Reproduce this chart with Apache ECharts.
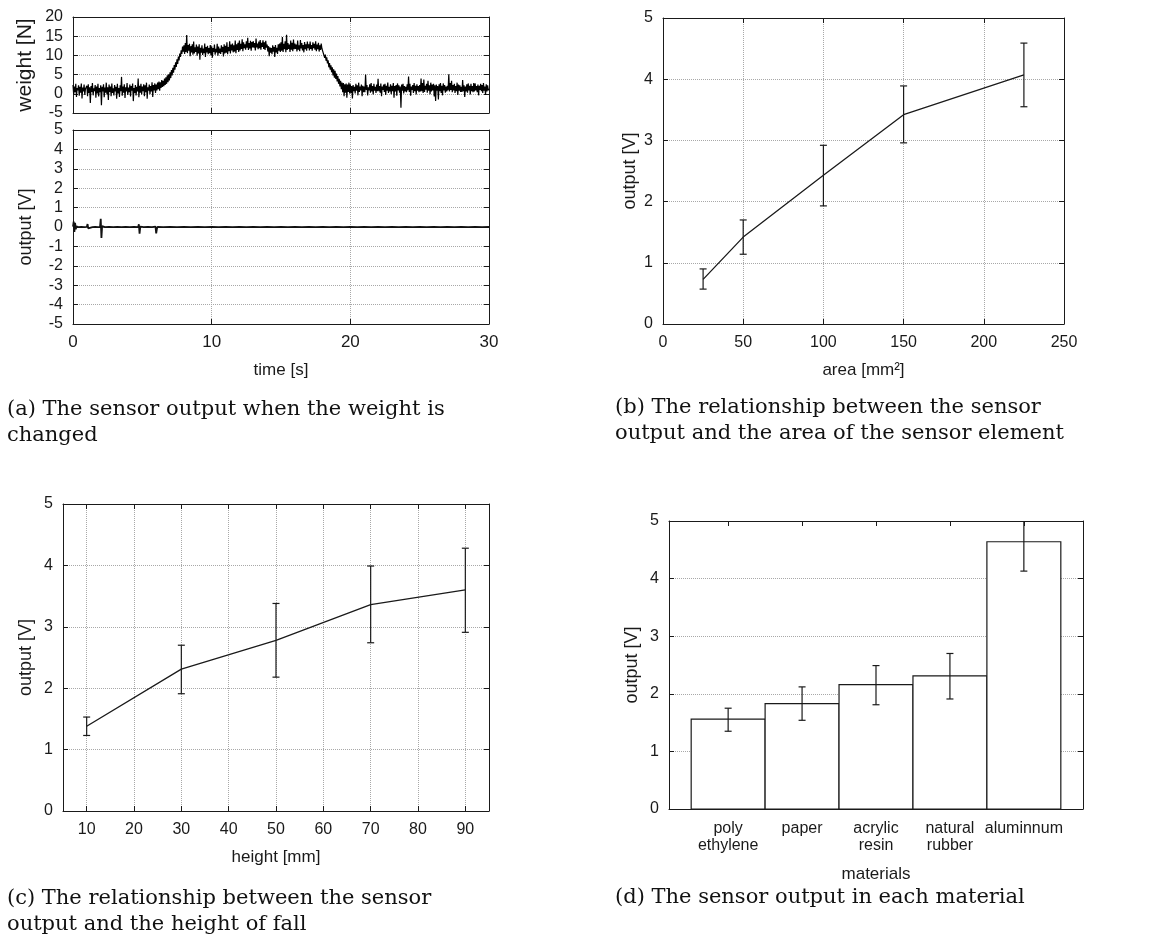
<!DOCTYPE html>
<html><head><meta charset="utf-8">
<script src="https://cdn.jsdelivr.net/npm/echarts@6/dist/echarts.min.js"></script>
<style>html,body{margin:0;padding:0;background:#fff}#c{width:1156px;height:946px}</style>
</head><body><div id="c"></div><script>
// ---------- DATA ----------
// (a) weight [N] sampled every 0.05 s from 0 to 30 s (one row = 1 s)
const weightStep = 0.05;
const weightValues = [
 2.3,-0.2,1.9,0.4,2.6,-0.8,1.5,0.9,2.2,-0.5,1.8,0.3,2.7,-1.2,1.6,0.6,2.4,-0.3,1.3,0.8,
 2.1,-0.6,2.5,0.2,1.7,-2.4,2.0,0.5,2.8,-0.4,1.4,0.7,2.3,-1.0,1.9,0.1,2.6,-0.7,1.5,0.4,
 2.2,-3.0,1.8,0.6,2.5,-0.9,1.6,0.3,2.9,-0.2,1.7,-1.6,2.4,0.5,1.9,-0.6,2.7,0.2,1.4,-0.4,
 2.3,0.6,1.8,-1.3,2.6,0.1,1.5,-0.8,2.2,0.7,4.4,-0.5,1.9,0.3,2.5,-1.1,1.7,0.6,2.8,-0.3,
 1.6,0.4,2.4,-0.7,2.0,0.8,2.7,-1.9,1.5,0.2,2.3,-0.4,1.8,0.6,4.0,-0.9,2.1,0.3,2.6,-0.2,
 1.9,0.7,2.5,-0.6,2.2,0.4,2.9,-1.3,1.7,0.8,2.4,-0.1,2.0,0.6,3.0,-0.8,2.3,0.9,2.7,0.2,
 2.4,0.9,2.9,1.2,3.2,0.8,3.0,1.5,3.6,1.8,3.4,2.0,4.0,2.3,4.3,2.6,4.8,3.0,5.1,3.5,
 5.6,4.1,6.2,4.8,6.8,5.5,7.5,6.3,8.2,7.0,9.0,7.8,9.7,8.7,10.5,9.6,11.3,10.4,12.3,11.0,
 12.6,10.4,13.2,10.9,15.3,10.6,12.7,11.2,13.0,9.8,12.4,10.8,12.9,10.2,13.6,10.5,12.1,10.9,12.8,9.9,
 12.3,10.5,12.9,8.9,12.0,10.7,12.6,10.1,11.8,10.6,13.1,9.6,12.2,10.8,12.5,10.3,11.9,10.6,12.7,10.0,
 12.4,9.4,11.9,10.9,12.8,10.2,11.7,10.8,13.0,9.9,12.3,10.6,11.8,10.4,12.6,10.9,12.2,9.7,12.9,10.5,
 12.5,10.7,13.4,10.3,12.2,11.1,13.7,10.5,12.8,11.3,13.1,10.8,12.6,11.0,13.9,10.6,12.9,11.4,13.3,10.9,
 13.9,11.3,13.0,11.7,14.2,11.1,13.4,11.9,12.9,11.5,13.7,12.0,14.6,11.4,13.2,11.8,13.8,11.2,13.5,12.1,
 13.7,12.0,13.2,11.3,14.4,12.1,13.1,11.6,13.6,11.9,14.0,11.5,13.3,12.2,13.9,11.7,13.4,11.4,13.8,12.0,
 12.8,11.0,12.4,9.8,12.1,10.7,11.9,10.3,12.6,11.0,12.2,9.6,12.7,10.8,12.0,10.4,12.9,11.2,13.1,10.9,
 13.4,11.2,14.8,10.9,13.0,11.6,13.7,10.8,15.4,11.4,13.2,11.7,12.8,10.9,13.9,11.5,13.3,11.1,14.1,11.6,
 13.1,11.7,12.8,11.0,13.9,11.5,12.6,11.1,14.0,11.8,13.2,11.3,12.7,10.8,13.5,11.6,12.9,11.2,13.6,11.9,
 12.9,11.3,13.6,11.7,12.7,11.2,13.4,11.9,13.0,11.5,13.7,11.1,12.8,11.6,13.3,11.0,12.6,11.4,13.1,11.8,
 12.0,10.6,11.1,9.4,10.2,8.6,9.5,7.9,8.7,6.9,8.0,6.3,7.4,5.6,6.9,4.8,6.4,4.2,6.0,3.9,
 5.3,3.2,4.6,2.6,3.9,1.9,3.4,1.2,2.9,0.4,2.8,-0.6,2.5,0.3,2.7,-1.0,2.4,0.5,2.9,0.1,
 2.5,0.2,2.0,-1.2,2.3,0.7,1.8,0.1,2.6,0.8,2.2,-0.4,2.9,0.5,1.9,0.9,2.4,-0.6,2.1,0.4,
 1.9,0.4,5.0,1.0,2.3,-0.4,1.7,0.9,2.5,0.3,2.8,0.6,2.0,-0.2,2.6,0.8,1.8,0.2,2.4,0.7,
 3.9,0.7,2.0,0.3,2.7,-0.6,1.9,1.0,2.4,0.5,2.6,-0.3,2.1,0.8,2.9,0.2,1.8,0.6,2.5,-0.1,
 2.1,0.7,2.8,-1.0,2.0,0.6,2.3,-0.5,2.7,0.9,2.2,0.3,1.9,-3.6,2.4,0.8,2.6,0.1,2.0,0.6,
 1.8,0.4,2.5,0.9,4.5,0.5,2.6,-0.5,1.9,1.0,2.3,0.2,2.8,0.7,2.1,-0.2,2.5,0.8,2.0,0.4,
 2.3,0.6,4.0,0.7,2.8,0.2,3.7,0.5,2.1,1.1,2.6,0.3,3.4,0.8,2.2,-0.1,2.9,0.6,2.4,0.9,
 2.6,-0.7,2.2,-1.9,2.4,0.8,2.0,-1.5,2.5,0.7,2.8,0.2,2.1,-0.4,2.7,0.9,2.3,0.3,1.9,0.6,
 2.1,0.9,5.1,0.6,2.8,1.0,3.4,0.4,2.3,0.9,2.6,0.2,2.0,0.7,2.9,-0.3,2.4,0.8,2.2,0.5,
 1.8,0.5,3.6,0.7,2.2,-0.8,1.9,0.6,2.5,0.3,2.7,0.9,2.1,-0.2,2.6,0.7,2.0,0.4,2.8,0.6,
 2.7,0.9,2.0,0.4,2.4,-0.4,2.1,1.0,2.6,0.7,2.3,0.2,2.8,0.8,1.9,-0.3,2.5,0.6,2.2,0.9,
 1.3
];
// (a) sensor output [V] : [time s, volt]
const outputSignal = [
 [0,0.02],[0.05,0.28],[0.1,-0.25],[0.15,0.22],[0.2,-0.12],[0.25,0.04],[0.4,-0.01],[0.6,0.01],[0.8,-0.01],
 [1.0,0.01],[1.05,0.15],[1.1,-0.07],[1.2,0.01],[1.4,-0.01],[1.6,0.01],[1.8,-0.01],[1.95,0.01],
 [2.0,0.42],[2.05,-0.56],[2.1,0.04],[2.3,-0.01],[2.6,0.01],[2.9,-0.01],[3.2,0.01],[3.5,-0.01],
 [3.8,0.01],[4.1,-0.01],[4.4,0.01],[4.7,-0.01],[4.75,0.14],[4.8,-0.34],[4.85,0.02],[5.1,-0.01],
 [5.4,0.01],[5.7,-0.01],[5.95,0.02],[6.0,-0.33],[6.05,-0.1],[6.1,0.01],[6.5,-0.01],[7,0.01],
 [7.5,-0.01],[8,0.01],[8.5,-0.01],[9,0.01],[9.5,-0.01],[10,0.01],[10.5,-0.01],[11,0.01],
 [11.5,-0.01],[12,0.01],[12.5,-0.01],[13,0.01],[13.5,-0.01],[14,0.01],[14.5,-0.01],[15,0.01],
 [15.5,-0.01],[16,0.01],[16.5,-0.01],[17,0.01],[17.5,-0.01],[18,0.01],[18.5,-0.01],[19,0.01],
 [19.5,-0.01],[20,0.01],[20.5,-0.01],[21,0.01],[21.5,-0.01],[22,0.01],[22.5,-0.01],[23,0.01],
 [23.5,-0.01],[24,0.01],[24.5,-0.01],[25,0.01],[25.5,-0.01],[26,0.01],[26.5,-0.01],[27,0.01],
 [27.5,-0.01],[28,0.01],[28.5,-0.01],[29,0.01],[29.5,-0.01],[30,0.0]
];
// (b) area vs output
const areaX    = [25, 50, 100, 150, 225];
const areaMean = [0.73, 1.42, 2.43, 3.42, 4.07];
const areaLow  = [0.57, 1.14, 1.93, 2.96, 3.55];
const areaHigh = [0.90, 1.70, 2.92, 3.89, 4.59];
// (c) height vs output
const heightX    = [10, 30, 50, 70, 90];
const heightMean = [1.38, 2.31, 2.78, 3.36, 3.60];
const heightLow  = [1.23, 1.91, 2.18, 2.74, 2.91];
const heightHigh = [1.53, 2.70, 3.38, 3.99, 4.28];
// (d) materials
const materialNames = ['poly\nethylene', 'paper', 'acrylic\nresin', 'natural\nrubber', 'aluminnum'];
const materialMean  = [1.56, 1.83, 2.16, 2.31, 4.64];
const materialLow   = [1.35, 1.54, 1.81, 1.91, 4.13];
const materialHigh  = [1.75, 2.12, 2.49, 2.70, 5.00];
// tick values
const heightTicks = [10, 20, 30, 40, 50, 60, 70, 80, 90];
const materialTicks = [1, 2, 3, 4, 5];
const captions = [
 '(a) The sensor output when the weight is\nchanged',
 '(b) The relationship between the sensor\noutput and the area of the sensor element',
 '(c) The relationship between the sensor\noutput and the height of fall',
 '(d) The sensor output in each material'
];

// ---------- STYLE HELPERS ----------
const INK = '#1a1a1a', GRIDC = '#a8a8a8';
const SANS = '"Liberation Sans", Arial, sans-serif';
const SERIF = '"DejaVu Serif", serif';

function tickCfg(custom){
  const t = {show:true, inside:true, length:5, lineStyle:{color:INK, width:1}};
  if (custom) t.customValues = custom;
  return t;
}
function lineCfg(){ return {show:true, onZero:false, lineStyle:{color:INK, width:1}}; }

function mkX(gi, min, max, o){
  const lab = {show:o.labels !== false, margin:o.margin || 10, color:INK, fontSize:o.fs || 16, fontFamily:SANS, lineHeight:17};
  if (o.ticks) lab.customValues = o.ticks;
  if (o.fmt) lab.formatter = o.fmt;
  const b = {type:'value', gridIndex:gi, position:'bottom', min:min, max:max,
    axisLine:lineCfg(), axisTick:tickCfg(o.ticks), axisLabel:lab,
    splitLine:{show:!!o.split, lineStyle:{color:GRIDC, type:'dotted', width:1}},
    name:o.name || '', nameLocation:'middle', nameGap:o.nameGap || 38,
    nameTextStyle:{color:INK, fontSize:17, fontFamily:SANS}};
  const t = {type:'value', gridIndex:gi, position:'top', min:min, max:max,
    axisLine:lineCfg(), axisTick:tickCfg(o.ticks), axisLabel:{show:false}, splitLine:{show:false}};
  if (o.interval){ b.interval = o.interval; t.interval = o.interval; }
  return [b, t];
}
function mkY(gi, min, max, interval, o){
  const l = {type:'value', gridIndex:gi, position:'left', min:min, max:max, interval:interval,
    axisLine:lineCfg(), axisTick:tickCfg(), 
    axisLabel:{margin:10, color:INK, fontSize:16, fontFamily:SANS},
    splitLine:{show:true, lineStyle:{color:GRIDC, type:'dotted', width:1}},
    name:o.name, nameLocation:'middle', nameGap:o.nameGap, nameRotate:90,
    nameTextStyle:{color:INK, fontSize:o.nfs || 18, fontFamily:SANS}};
  const r = {type:'value', gridIndex:gi, position:'right', min:min, max:max, interval:interval,
    axisLine:lineCfg(), axisTick:tickCfg(), axisLabel:{show:false}, splitLine:{show:false}};
  return [l, r];
}

function errRender(params, api){
  const x = api.value(0), lo = api.value(1), hi = api.value(2);
  const a = api.coord([x, lo]), b = api.coord([x, hi]);
  const w = 3.5, st = {stroke:INK, lineWidth:1.2};
  return {type:'group', children:[
    {type:'line', shape:{x1:a[0], y1:a[1], x2:b[0], y2:b[1]}, style:st},
    {type:'line', shape:{x1:a[0]-w, y1:a[1], x2:a[0]+w, y2:a[1]}, style:st},
    {type:'line', shape:{x1:b[0]-w, y1:b[1], x2:b[0]+w, y2:b[1]}, style:st}
  ]};
}
function barRender(params, api){
  const x = api.value(0), y = api.value(1);
  const p0 = api.coord([x - 0.5, 0]), p1 = api.coord([x + 0.5, y]);
  return {type:'rect', shape:{x:p0[0], y:p1[1], width:p1[0]-p0[0], height:p0[1]-p1[1]},
    style:{fill:'#ffffff', stroke:INK, lineWidth:1.2}};
}

// ---------- BUILD ----------
const weightData = weightValues.map((v, i) => [+(i * weightStep).toFixed(2), v]);
const areaLine = areaX.map((x, i) => [x, areaMean[i]]);
const areaErr = areaX.map((x, i) => [x, areaLow[i], areaHigh[i]]);
const heightLine = heightX.map((x, i) => [x, heightMean[i]]);
const heightErr = heightX.map((x, i) => [x, heightLow[i], heightHigh[i]]);
const matBars = materialTicks.map((x, i) => [x, materialMean[i]]);
const matErr = materialTicks.map((x, i) => [x, materialLow[i], materialHigh[i]]);

const grids = [
  {left:73, top:17, width:416, height:96},
  {left:73, top:130, width:416, height:194},
  {left:663, top:18, width:401, height:306},
  {left:63, top:504, width:426, height:307},
  {left:669, top:521, width:414, height:288}
];

const xAxes = [].concat(
  mkX(0, 0, 30, {interval:10, labels:false, split:true}),
  mkX(1, 0, 30, {interval:10, split:true, name:'time [s]', nameGap:38, fs:17}),
  mkX(2, 0, 250, {interval:50, split:true, name:'area [mm²]', nameGap:38}),
  mkX(3, 5, 95, {ticks:heightTicks, split:true, name:'height [mm]', nameGap:38}),
  mkX(4, 0.2, 5.8, {ticks:materialTicks, split:false, margin:11, name:'materials', nameGap:57,
     fmt: v => materialNames[Math.round(v) - 1] || ''})
);
const yAxes = [].concat(
  mkY(0, -5, 20, 5, {name:'weight [N]', nameGap:37, nfs:21}),
  mkY(1, -5, 5, 1, {name:'output [V]', nameGap:38}),
  mkY(2, 0, 5, 1, {name:'output [V]', nameGap:24}),
  mkY(3, 0, 5, 1, {name:'output [V]', nameGap:28}),
  mkY(4, 0, 5, 1, {name:'output [V]', nameGap:28})
);

const capPos = [[7, 397], [615, 395], [7, 886], [615, 885]];
const titles = captions.map((c, i) => ({
  text:c, left:capPos[i][0], top:capPos[i][1], padding:0,
  textStyle:{fontFamily:SERIF, fontSize:21, fontWeight:'normal', color:'#111', lineHeight:26}
}));

const option = {
  backgroundColor:'#ffffff',
  animation:false,
  title:titles,
  grid:grids,
  xAxis:xAxes,
  yAxis:yAxes,
  series:[
    {type:'line', xAxisIndex:0, yAxisIndex:0, data:weightData, showSymbol:false, symbol:'none',
     lineStyle:{color:'#000', width:1.2}, clip:true},
    {type:'line', xAxisIndex:2, yAxisIndex:2, data:outputSignal, showSymbol:false, symbol:'none',
     lineStyle:{color:'#111', width:1.8}, clip:true},
    {type:'line', xAxisIndex:4, yAxisIndex:4, data:areaLine, showSymbol:false, symbol:'none',
     lineStyle:{color:INK, width:1.3}},
    {type:'custom', xAxisIndex:4, yAxisIndex:4, data:areaErr, renderItem:errRender, clip:true},
    {type:'line', xAxisIndex:6, yAxisIndex:6, data:heightLine, showSymbol:false, symbol:'none',
     lineStyle:{color:INK, width:1.3}},
    {type:'custom', xAxisIndex:6, yAxisIndex:6, data:heightErr, renderItem:errRender, clip:true},
    {type:'custom', xAxisIndex:8, yAxisIndex:8, data:matBars, renderItem:barRender, clip:true, z:2},
    {type:'custom', xAxisIndex:8, yAxisIndex:8, data:matErr, renderItem:errRender, clip:true, z:3}
  ]
};
const chart = echarts.init(document.getElementById('c'), null, {renderer:'canvas'});
chart.setOption(option);
</script></body></html>
